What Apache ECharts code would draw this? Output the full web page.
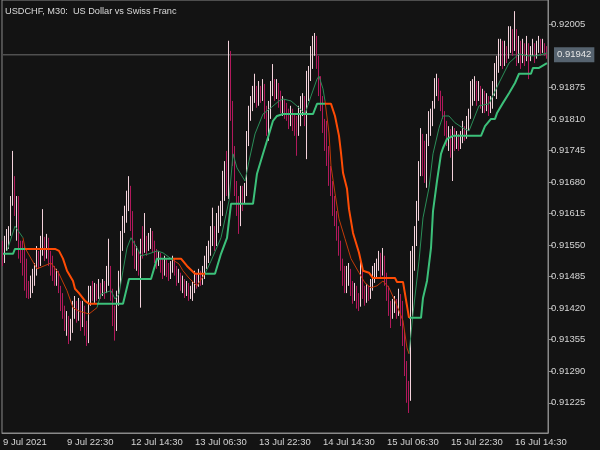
<!DOCTYPE html>
<html>
<head>
<meta charset="utf-8">
<script src="https://cdn.jsdelivr.net/npm/echarts@6/dist/echarts.min.js"></script>
<style>
html,body{margin:0;padding:0;background:#131313;}
#chart{width:600px;height:450px;}
</style>
</head>
<body>
<div id="chart"></div>
<script>
// ---- data (USDCHF, M30) ----
const titleText = 'USDCHF, M30:  US Dollar vs Swiss Franc';
const tickLabels = ['9 Jul 2021','9 Jul 22:30','12 Jul 14:30','13 Jul 06:30','13 Jul 22:30','14 Jul 14:30','15 Jul 06:30','15 Jul 22:30','16 Jul 14:30'];
const barsPerTick = 32;
const priceTicks = [0.92005,0.91875,0.91810,0.91745,0.91680,0.91615,0.91550,0.91485,0.91420,0.91355,0.91290,0.91225];
const lastPrice = 0.91942;
const firstOpen = 0.91538;

const closes = [
0.91528,0.91548,0.91559,0.91575,0.91641,0.91682,0.91631,0.91641,0.91548,0.91538,
0.91528,0.91513,0.91456,0.91445,0.91466,0.91476,0.91497,0.91528,0.91513,0.91548,
0.91559,0.91538,0.91559,0.91528,0.91513,0.91497,0.91476,0.91487,0.91460,0.91445,
0.91410,0.91390,0.91394,0.91363,0.91377,0.91410,0.91425,0.91404,0.91425,0.91390,
0.91414,0.91383,0.91353,0.91435,0.91451,0.91445,0.91460,0.91451,
0.91466,0.91456,0.91468,0.91456,0.91487,0.91501,0.91456,0.91404,0.91383,0.91435,
0.91476,0.91548,0.91589,0.91610,0.91631,0.91662,0.91610,0.91548,0.91517,0.91528,
0.91513,0.91548,0.91538,0.91559,0.91548,0.91559,0.91569,0.91548,0.91528,0.91517,
0.91522,0.91507,0.91497,0.91513,0.91501,0.91487,0.91497,0.91513,0.91501,0.91480,
0.91487,0.91466,0.91472,0.91456,0.91464,0.91445,0.91456,
0.91466,0.91480,0.91472,0.91487,0.91476,0.91493,0.91513,0.91528,0.91538,0.91569,
0.91579,0.91559,0.91596,0.91610,0.91620,0.91651,0.91703,0.91662,0.91940,0.91826,
0.91744,0.91672,0.91631,0.91600,0.91651,0.91641,0.91662,0.91765,0.91816,0.91837,
0.91857,0.91868,0.91847,0.91872,0.91857,0.91878,0.91826,0.91795,0.91816,0.91868,
0.91884,0.91863,0.91878,0.91857,0.91837,0.91847,
0.91831,0.91816,0.91806,0.91822,0.91810,0.91795,0.91785,0.91816,0.91831,0.91847,
0.91831,0.91878,0.91898,0.91929,0.91960,0.91971,0.91929,0.91888,0.91847,0.91795,
0.91785,0.91744,0.91703,0.91672,0.91641,0.91610,0.91579,0.91548,0.91513,0.91487,
0.91466,0.91480,0.91497,0.91466,0.91445,0.91456,0.91435,0.91425,0.91487,0.91456,
0.91439,0.91456,0.91445,0.91466,0.91487,0.91497,0.91507,
0.91517,0.91507,0.91522,0.91487,0.91456,0.91425,0.91398,0.91425,0.91435,0.91414,
0.91445,0.91425,0.91363,0.91301,0.91250,0.91239,0.91414,0.91507,0.91559,0.91610,
0.91703,0.91765,0.91744,0.91713,0.91765,0.91785,0.91810,0.91837,0.91868,0.91888,
0.91863,0.91847,0.91822,0.91795,0.91765,0.91775,0.91754,0.91785,0.91765,0.91775,
0.91754,0.91769,0.91785,0.91775,0.91795,0.91816,0.91837,
0.91868,0.91884,0.91857,0.91872,0.91847,0.91863,0.91837,0.91851,0.91831,0.91843,
0.91868,0.91888,0.91919,0.91940,0.91960,0.91929,0.91954,0.91940,0.91971,0.91981,
0.91960,0.91991,0.91940,0.91950,0.91929,0.91954,0.91940,0.91960,0.91940,0.91950,
0.91960,0.91940,0.91954,0.91966,0.91950,0.91960,0.91950,0.91942
];

const highs = [
0.91559,0.91569,0.91583,0.91589,0.91651,0.91744,0.91692,0.91651,0.91651,0.91559,
0.91559,0.91548,0.91522,0.91476,0.91487,0.91501,0.91513,0.91548,0.91538,0.91569,
0.91624,0.91567,0.91573,0.91565,0.91538,0.91528,0.91507,0.91501,0.91497,0.91466,
0.91451,0.91425,0.91414,0.91404,0.91398,0.91435,0.91445,0.91435,0.91441,0.91435,
0.91435,0.91425,0.91394,0.91466,0.91466,0.91476,0.91472,0.91470,
0.91480,0.91472,0.91480,0.91476,0.91507,0.91563,0.91507,0.91460,0.91425,0.91456,
0.91497,0.91579,0.91610,0.91631,0.91662,0.91692,0.91672,0.91620,0.91559,0.91548,
0.91538,0.91563,0.91589,0.91616,0.91569,0.91575,0.91585,0.91579,0.91559,0.91542,
0.91538,0.91534,0.91522,0.91528,0.91522,0.91513,0.91517,0.91528,0.91522,0.91507,
0.91501,0.91493,0.91487,0.91480,0.91476,0.91472,0.91466,
0.91476,0.91497,0.91493,0.91501,0.91497,0.91507,0.91528,0.91548,0.91559,0.91589,
0.91627,0.91589,0.91616,0.91631,0.91641,0.91703,0.91723,0.91744,0.91971,0.91950,
0.91847,0.91754,0.91682,0.91651,0.91672,0.91672,0.91678,0.91785,0.91837,0.91857,
0.91878,0.91903,0.91878,0.91888,0.91878,0.91892,0.91882,0.91837,0.91847,0.91888,
0.91923,0.91892,0.91892,0.91884,0.91868,0.91857,
0.91851,0.91843,0.91831,0.91837,0.91831,0.91822,0.91816,0.91837,0.91857,0.91863,
0.91857,0.91909,0.91919,0.91960,0.91981,0.91987,0.91981,0.91940,0.91898,0.91857,
0.91810,0.91806,0.91754,0.91713,0.91682,0.91651,0.91620,0.91589,0.91559,0.91522,
0.91507,0.91507,0.91513,0.91501,0.91476,0.91472,0.91466,0.91451,0.91517,0.91497,
0.91466,0.91470,0.91466,0.91480,0.91507,0.91513,0.91522,
0.91538,0.91534,0.91544,0.91528,0.91493,0.91466,0.91435,0.91439,0.91445,0.91439,
0.91460,0.91449,0.91435,0.91373,0.91311,0.91270,0.91538,0.91548,0.91589,0.91641,
0.91723,0.91791,0.91779,0.91765,0.91779,0.91826,0.91831,0.91847,0.91894,0.91903,
0.91894,0.91868,0.91857,0.91826,0.91806,0.91795,0.91789,0.91795,0.91791,0.91785,
0.91779,0.91785,0.91806,0.91795,0.91816,0.91831,0.91888,
0.91892,0.91898,0.91888,0.91888,0.91878,0.91872,0.91868,0.91863,0.91857,0.91857,
0.91888,0.91925,0.91940,0.91975,0.91975,0.91971,0.91971,0.91960,0.92001,0.92001,
0.91995,0.92032,0.91995,0.91981,0.91971,0.91975,0.91966,0.91981,0.91966,0.91960,
0.91975,0.91966,0.91971,0.91981,0.91975,0.91975,0.91966,0.91960
];

const lows = [
0.91507,0.91513,0.91538,0.91542,0.91569,0.91631,0.91610,0.91559,0.91522,0.91513,
0.91487,0.91456,0.91441,0.91439,0.91441,0.91451,0.91466,0.91487,0.91501,0.91507,
0.91528,0.91517,0.91522,0.91507,0.91487,0.91476,0.91466,0.91466,0.91451,0.91414,
0.91398,0.91373,0.91363,0.91346,0.91353,0.91369,0.91398,0.91390,0.91394,0.91373,
0.91381,0.91363,0.91342,0.91348,0.91425,0.91435,0.91431,0.91435,
0.91439,0.91439,0.91445,0.91439,0.91451,0.91466,0.91435,0.91383,0.91353,0.91373,
0.91425,0.91466,0.91538,0.91575,0.91596,0.91620,0.91579,0.91528,0.91501,0.91497,
0.91487,0.91421,0.91522,0.91534,0.91528,0.91538,0.91542,0.91534,0.91513,0.91501,
0.91507,0.91493,0.91480,0.91487,0.91484,0.91476,0.91480,0.91493,0.91487,0.91466,
0.91472,0.91456,0.91451,0.91441,0.91445,0.91435,0.91439,
0.91435,0.91451,0.91460,0.91464,0.91466,0.91468,0.91480,0.91501,0.91513,0.91528,
0.91548,0.91538,0.91548,0.91575,0.91589,0.91610,0.91641,0.91651,0.91645,0.91806,
0.91713,0.91651,0.91610,0.91573,0.91589,0.91620,0.91635,0.91651,0.91754,0.91806,
0.91826,0.91843,0.91833,0.91837,0.91843,0.91847,0.91810,0.91775,0.91765,0.91810,
0.91857,0.91847,0.91851,0.91833,0.91822,0.91816,
0.91810,0.91806,0.91789,0.91795,0.91785,0.91775,0.91734,0.91775,0.91795,0.91816,
0.91795,0.91727,0.91847,0.91888,0.91913,0.91940,0.91913,0.91857,0.91826,0.91781,
0.91744,0.91713,0.91672,0.91651,0.91610,0.91589,0.91559,0.91528,0.91497,0.91466,
0.91451,0.91451,0.91466,0.91445,0.91429,0.91435,0.91419,0.91414,0.91423,0.91439,
0.91425,0.91431,0.91435,0.91439,0.91456,0.91472,0.91480,
0.91497,0.91480,0.91487,0.91466,0.91435,0.91404,0.91379,0.91404,0.91410,0.91398,
0.91404,0.91383,0.91342,0.91280,0.91225,0.91204,0.91229,0.91404,0.91497,0.91548,
0.91600,0.91692,0.91692,0.91678,0.91668,0.91754,0.91775,0.91795,0.91831,0.91857,
0.91847,0.91826,0.91810,0.91775,0.91754,0.91744,0.91730,0.91682,0.91744,0.91748,
0.91744,0.91748,0.91760,0.91765,0.91769,0.91785,0.91810,
0.91837,0.91847,0.91837,0.91847,0.91831,0.91822,0.91822,0.91826,0.91816,0.91822,
0.91831,0.91857,0.91851,0.91905,0.91919,0.91913,0.91919,0.91925,0.91934,0.91946,
0.91940,0.91950,0.91919,0.91925,0.91913,0.91925,0.91919,0.91929,0.91892,0.91929,
0.91940,0.91925,0.91934,0.91946,0.91940,0.91946,0.91940,0.91934
];

// step trend line (thick), vertices [bar index, price], split by colour
const stepUp = [
  [[0,0.91532],[5,0.91532],[6,0.91542],[11,0.91542]],
  [[47,0.91429],[60,0.91429],[63,0.91480],[74,0.91480],[77,0.91522],[85,0.91522]],
  [[101,0.91491],[106,0.91491],[109,0.91532],[112,0.91565],[114,0.91635],[125,0.91635],[127,0.91697],[130,0.91738],[132,0.91765],[135,0.91806],[137,0.91816],[140,0.91820],[155,0.91820],[157,0.91841],[161,0.91841]],
  [[203,0.91400],[209,0.91400],[210,0.91441],[212,0.91476],[214,0.91544],[215,0.91620],[217,0.91682],[219,0.91738],[220,0.91750],[222,0.91769],[225,0.91775],[239,0.91775],[241,0.91795],[244,0.91810],[246,0.91810],[247,0.91822],[250,0.91843],[253,0.91863],[256,0.91884],[258,0.91903],[264,0.91903],[265,0.91915],[268,0.91915],[272,0.91925]]
];
const stepDown = [
  [[11,0.91542],[26,0.91542],[28,0.91538],[30,0.91522],[32,0.91497],[35,0.91476],[36,0.91460],[38,0.91451],[41,0.91435],[43,0.91429],[47,0.91429]],
  [[85,0.91522],[89,0.91522],[92,0.91507],[96,0.91491],[101,0.91491]],
  [[161,0.91841],[164,0.91841],[166,0.91816],[168,0.91775],[169,0.91740],[170,0.91699],[172,0.91666],[173,0.91624],[175,0.91575],[178,0.91534],[180,0.91497],[183,0.91493],[185,0.91482],[196,0.91482],[197,0.91474],[200,0.91474],[203,0.91400]]
];
// smooth moving average (thin), vertices [bar index, price], split by colour
const maUp = [
  [[2,0.91538],[6,0.91589],[10,0.91565]],
  [[47,0.91421],[49,0.91449],[54,0.91456],[56,0.91439],[58,0.91449],[60,0.91497],[62,0.91544],[64,0.91565],[67,0.91544],[69,0.91528],[73,0.91532],[77,0.91538],[80,0.91534],[84,0.91522]],
  [[101,0.91491],[104,0.91517],[109,0.91565],[113,0.91641],[115,0.91738],[117,0.91709],[121,0.91682],[123,0.91723],[126,0.91779],[130,0.91820],[134,0.91833],[138,0.91847],[140,0.91851],[144,0.91847],[148,0.91833],[151,0.91820],[154,0.91857],[157,0.91892],[158,0.91898],[160,0.91872],[161,0.91847]],
  [[203,0.91326],[205,0.91408],[208,0.91517],[210,0.91606],[213,0.91668],[215,0.91738],[218,0.91791],[220,0.91816],[223,0.91816],[226,0.91802],[230,0.91791],[233,0.91785],[238,0.91837],[243,0.91841],[248,0.91884],[253,0.91925],[258,0.91944],[262,0.91940],[267,0.91940],[272,0.91946]]
];
const maDown = [
  [[10,0.91565],[11,0.91544],[17,0.91501],[24,0.91513],[28,0.91491],[32,0.91456],[35,0.91421],[38,0.91414],[43,0.91408],[47,0.91421]],
  [[84,0.91522],[88,0.91511],[90,0.91497],[93,0.91482],[97,0.91466],[101,0.91491]],
  [[161,0.91847],[163,0.91781],[164,0.91713],[166,0.91657],[168,0.91604],[171,0.91563],[174,0.91522],[178,0.91493],[181,0.91472],[184,0.91462],[187,0.91466],[190,0.91476],[193,0.91462],[196,0.91435],[200,0.91394],[202,0.91338],[203,0.91326]]
];

// ---- build chart ----
const cats = closes.map((_, i) => String(i));
const lastIdx = closes.length - 1;
const candles = closes.map((c, i) => {
  const o = i === 0 ? firstOpen : closes[i - 1];
  return [o, c, Math.min(lows[i], o, c), Math.max(highs[i], o, c)];
});

const FONT = 'Liberation Sans';
const series = [];
// current price (bid) line across the chart, with its price box at the right
series.push({
  type: 'line', data: [[0, lastPrice], [lastIdx, lastPrice]], z: 1, silent: true,
  showSymbol: false, symbol: 'none',
  lineStyle: { color: '#6e6e6e', width: 1 },
  endLabel: {
    show: true, formatter: lastPrice.toFixed(5), distance: 7,
    backgroundColor: '#56636f', color: '#e6e6e6', padding: [3, 3, 2, 3],
    fontFamily: FONT, fontSize: 9.5
  }
});
series.push({
  type: 'candlestick',
  data: candles,
  barWidth: 1,
  z: 2,
  itemStyle: {
    color: '#f4d3dc', color0: '#b2195c',
    borderColor: '#f4d3dc', borderColor0: '#b2195c', borderWidth: 1
  }
});
function addLines(segs, color, width, z) {
  segs.forEach(seg => series.push({
    type: 'line', data: seg, showSymbol: false, symbol: 'none', z: z,
    lineStyle: { color: color, width: width }, silent: true, animation: false
  }));
}
addLines(maUp, '#2a8d58', 1, 3);
addLines(maDown, '#c23a08', 1, 3);
addLines(stepUp, '#3cc07a', 2, 4);
addLines(stepDown, '#ff4c05', 2, 4);

const chart = echarts.init(document.getElementById('chart'), null, { renderer: 'canvas' });
chart.setOption({
  backgroundColor: '#131313',
  animation: false,
  title: {
    text: titleText, left: 0, top: 2,
    textStyle: { color: '#dadada', fontSize: 9.2, fontWeight: 'normal', fontFamily: FONT }
  },
  grid: { left: 1, right: 52, top: -1, bottom: 17, show: true, borderColor: '#8a8a8a', borderWidth: 1 },
  xAxis: {
    type: 'category', data: cats, boundaryGap: true,
    axisLine: { lineStyle: { color: '#8a8a8a' } },
    axisTick: { interval: barsPerTick - 1, alignWithLabel: true, length: 4, lineStyle: { color: '#8a8a8a' } },
    axisLabel: {
      interval: barsPerTick - 1, align: 'left', margin: 4, color: '#d4d4d4',
      fontFamily: FONT, fontSize: 9.5,
      formatter: (v, idx) => tickLabels[Math.round(idx / barsPerTick)] || ''
    },
    splitLine: { show: false }
  },
  yAxis: {
    type: 'value', position: 'right', min: 0.911627, max: 0.920550,
    axisLine: { show: true, lineStyle: { color: '#8a8a8a' } },
    axisTick: { show: true, length: 5, customValues: priceTicks, lineStyle: { color: '#8a8a8a' } },
    axisLabel: {
      customValues: priceTicks, color: '#d4d4d4', margin: 3,
      fontFamily: FONT, fontSize: 9.5, formatter: v => v.toFixed(5)
    },
    splitLine: { show: false }
  },
  series: series
});
</script>
</body>
</html>
